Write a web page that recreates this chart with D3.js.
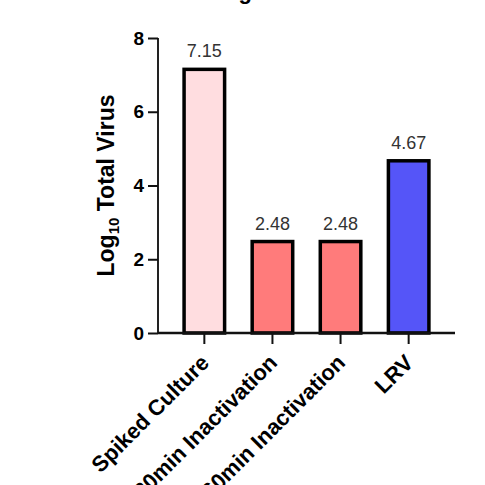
<!DOCTYPE html>
<html>
<head>
<meta charset="utf-8">
<script src="https://cdn.jsdelivr.net/npm/d3@7"></script>
<style>
  body { margin: 0; background: #fff; }
  svg { display: block; font-family: Arial, "Liberation Sans", sans-serif; }
</style>
</head>
<body>
<div id="chart"></div>
<script>
// values
var categories = ["Spiked Culture", "30min Inactivation", "60min Inactivation", "LRV"];
var values = [7.15, 2.48, 2.48, 4.67];
var fills = ["#ffdde0", "#ff7b7b", "#ff7b7b", "#5555f8"];
var yTicks = [0, 2, 4, 6, 8];

var width = 485, height = 485;

var x = d3.scaleBand()
	.domain(categories)
	.range([158, 455])
	.paddingInner(0.405)
	.paddingOuter(0.383);

var y = d3.scaleLinear()
	.domain([0, 8])
	.range([333, 38]);

var svg = d3.select("#chart").append("svg")
	.attr("width", width)
	.attr("height", height);

// title, mostly cut off at the top of the picture
svg.append("text")
	.attr("x", 252)
	.attr("y", -1)
	.attr("text-anchor", "end")
	.style("font-size", "22px")
	.style("font-weight", "bold")
	.text("Virus Log");

var data = categories.map(function(c, i) {
	return {label: c, value: values[i], fill: fills[i]};
});

svg.selectAll(".bar")
	.data(data)
	.enter().append("rect")
	.attr("class", "bar")
	.attr("x", function(d) { return x(d.label); })
	.attr("y", function(d) { return y(d.value); })
	.attr("width", x.bandwidth())
	.attr("height", function(d) { return y(0) - y(d.value); })
	.style("fill", function(d) { return d.fill; })
	.style("stroke", "#000")
	.style("stroke-width", 3.5);

svg.selectAll(".val")
	.data(data)
	.enter().append("text")
	.attr("class", "val")
	.attr("x", function(d) { return x(d.label) + x.bandwidth() / 2; })
	.attr("y", function(d) { return y(d.value) - 12; })
	.attr("text-anchor", "middle")
	.style("font-size", "18px")
	.style("fill", "#333")
	.text(function(d) { return d.value.toFixed(2); });

var yAxis = svg.append("g")
	.attr("transform", "translate(158,0)")
	.call(d3.axisLeft(y).tickValues(yTicks).tickSize(10).tickPadding(4));

var xAxis = svg.append("g")
	.attr("transform", "translate(0,333)")
	.call(d3.axisBottom(x).tickSize(11).tickPadding(4));

yAxis.select(".domain").attr("d", "M0," + y(8) + "H0V" + y(0))
	.style("stroke", "#222").style("stroke-width", 2);
xAxis.select(".domain").attr("d", "M158,0H455")
	.style("stroke", "#111").style("stroke-width", 2.5);

svg.selectAll(".tick line").style("stroke", "#111").style("stroke-width", 2);

yAxis.selectAll("text")
	.style("font-size", "19px")
	.style("font-weight", "bold")
	.style("fill", "#000");

xAxis.selectAll("text")
	.style("font-size", "22px")
	.style("font-weight", "bold")
	.style("fill", "#000")
	.attr("text-anchor", "end")
	.attr("dy", null)
	.attr("y", null)
	.attr("transform", "translate(6,31) rotate(-45)");

// y axis title with subscript
var yTitle = svg.append("text")
	.attr("transform", "translate(114," + (y(0) + y(8)) / 2 + ") rotate(-90)")
	.attr("text-anchor", "middle")
	.style("font-size", "23px")
	.style("font-weight", "bold");
yTitle.append("tspan").text("Log");
yTitle.append("tspan").attr("dy", 5).style("font-size", "15px").text("10");
yTitle.append("tspan").attr("dy", -5).text(" Total Virus");
</script>
</body>
</html>
